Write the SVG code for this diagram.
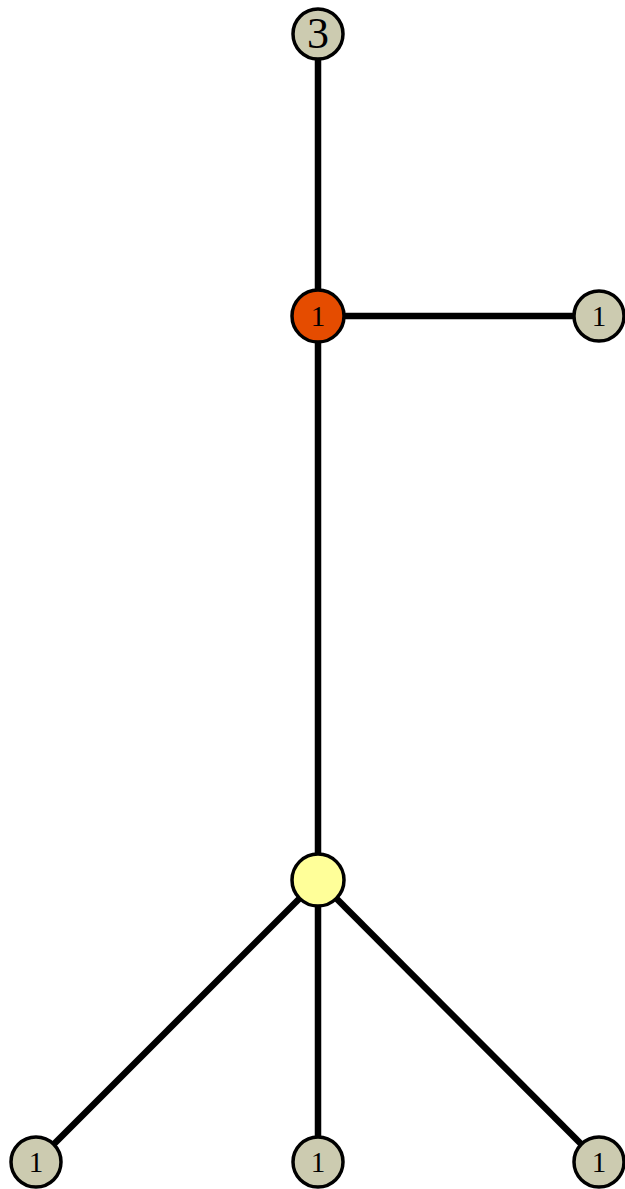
<svg xmlns="http://www.w3.org/2000/svg" width="625" height="1189" viewBox="0 0 625 1189">
  <style>
    .edge { stroke: #000; stroke-width: 6.5; fill: none; }
    .node circle { stroke: #000; stroke-width: 3.5; }
    .leaf { fill: #cccbb0; }
    .hub { fill: #e54c00; }
    .root { fill: #ffff99; }
    .lbl { font-family: "Liberation Serif", "DejaVu Serif", serif; text-anchor: middle; fill: #000; }
    .small { font-size: 29px; }
    .big { font-size: 44px; }
  </style>
  <rect width="625" height="1189" fill="#fff"/>
  <g id="edges">
    <line class="edge" x1="318" y1="34" x2="318" y2="316"/>
    <line class="edge" x1="318" y1="316" x2="599" y2="316"/>
    <line class="edge" x1="318" y1="316" x2="318" y2="880"/>
    <line class="edge" x1="318" y1="880" x2="36" y2="1162"/>
    <line class="edge" x1="318" y1="880" x2="318" y2="1162"/>
    <line class="edge" x1="318" y1="880" x2="599" y2="1162"/>
  </g>
  <g id="n-top" class="node">
    <circle class="leaf" cx="318" cy="34" r="25"/>
    <text class="lbl big" x="318" y="48">3</text>
  </g>
  <g id="n-hub" class="node">
    <circle class="hub" cx="318" cy="316" r="26"/>
    <text class="lbl small" x="318" y="326">1</text>
  </g>
  <g id="n-right" class="node">
    <circle class="leaf" cx="599" cy="316" r="25"/>
    <text class="lbl small" x="599" y="326">1</text>
  </g>
  <g id="n-center" class="node">
    <circle class="root" cx="318" cy="880" r="26"/>
  </g>
  <g id="n-bl" class="node">
    <circle class="leaf" cx="36" cy="1162" r="25"/>
    <text class="lbl small" x="36" y="1172">1</text>
  </g>
  <g id="n-bm" class="node">
    <circle class="leaf" cx="318" cy="1162" r="25"/>
    <text class="lbl small" x="318" y="1172">1</text>
  </g>
  <g id="n-br" class="node">
    <circle class="leaf" cx="599" cy="1162" r="25"/>
    <text class="lbl small" x="599" y="1172">1</text>
  </g>
</svg>
